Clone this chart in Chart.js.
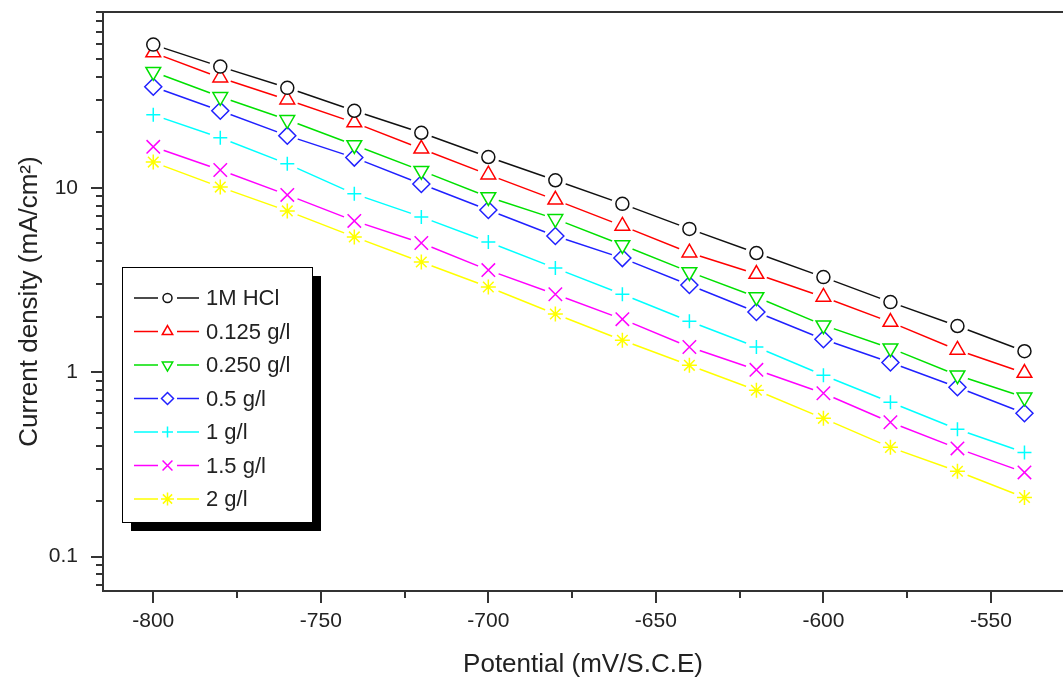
<!DOCTYPE html>
<html>
<head>
<meta charset="utf-8">
<script src="https://cdn.jsdelivr.net/npm/chart.js@4.4.0/dist/chart.umd.min.js"></script>
<style>
  body { margin: 0; background: #fff; }
  canvas { display: block; }
</style>
</head>
<body>
<canvas id="tafel" width="1063" height="679"></canvas>
<script>
// potential (mV/S.C.E)
const potential = [-800, -780, -760, -740, -720, -700, -680, -660, -640, -620, -600, -580, -560, -540];

// current density (mA/cm2)
const blank   = [59.9, 45.5, 34.9, 26.2, 19.9, 14.7, 11.0, 8.19, 5.99, 4.43, 3.28, 2.40, 1.78, 1.30];
const c0125   = [54.2, 39.6, 30.1, 22.6, 16.3, 11.8, 8.61, 6.22, 4.45, 3.41, 2.56, 1.87, 1.32, 0.99];
const c0250   = [42.7, 31.2, 23.4, 17.1, 12.4, 8.93, 6.79, 4.90, 3.50, 2.56, 1.80, 1.35, 0.963, 0.731];
const c05     = [35.4, 26.2, 19.2, 14.6, 10.5, 7.59, 5.48, 4.16, 2.97, 2.12, 1.51, 1.13, 0.829, 0.599];
const c1      = [24.9, 18.7, 13.5, 9.28, 6.96, 5.09, 3.67, 2.65, 1.89, 1.37, 0.963, 0.687, 0.490, 0.367];
const c15     = [16.7, 12.5, 9.16, 6.62, 5.02, 3.58, 2.65, 1.94, 1.37, 1.03, 0.769, 0.535, 0.386, 0.286];
const c2      = [13.8, 10.1, 7.50, 5.42, 3.96, 2.90, 2.07, 1.49, 1.09, 0.798, 0.562, 0.391, 0.290, 0.209];

const seriesNames = ['1M HCl', '0.125 g/l', '0.250 g/l', '0.5 g/l', '1 g/l', '1.5 g/l', '2 g/l'];

const xMajor = [-800, -750, -700, -650, -600, -550];
const xMinor = [-775, -725, -675, -625, -575];
const xTickLabels = ['-800', '-750', '-700', '-650', '-600', '-550'];

const yMajor = [0.1, 1, 10];
const yMinor = [0.07, 0.08, 0.09, 0.2, 0.3, 0.4, 0.5, 0.6, 0.7, 0.8, 0.9,
                2, 3, 4, 5, 6, 7, 8, 9, 20, 30, 40, 50, 60, 70, 80, 90];
const yTickLabels = ['0.1', '1', '10'];

const FONT = "'Liberation Sans', Arial, sans-serif";
const INK = '#222';

function pts(vals) {
  return potential.map((x, i) => ({ x: x, y: vals[i] }));
}

function series(label, vals, color, style, radius, rot) {
  return {
    label: label,
    data: pts(vals),
    borderColor: color,
    backgroundColor: '#fff',
    borderWidth: 1.5,
    pointStyle: style,
    pointRadius: radius,
    pointRotation: rot || 0,
    pointBorderColor: color,
    pointBackgroundColor: '#fff',
    pointBorderWidth: 1.5,
    tension: 0
  };
}

const datasets = [
  series(seriesNames[0], blank, '#111111', 'circle', 6.5),
  series(seriesNames[1], c0125, '#ff0000', 'triangle', 8.5),
  series(seriesNames[2], c0250, '#00e000', 'triangle', 8.5, 180),
  series(seriesNames[3], c05,   '#2020ff', 'rectRot', 8.5),
  series(seriesNames[4], c1,    '#00ffff', 'cross', 7),
  series(seriesNames[5], c15,   '#ff00ff', 'crossRot', 9.5),
  series(seriesNames[6], c2,    '#ffff00', 'star', 7.5)
];

// legend marker sizes (smaller than plot markers)
const legendRadius = [4.5, 6, 6, 6, 5.5, 7, 6.5];

// Origin style: the line stops short of each marker
const markerGaps = {
  id: 'markerGaps',
  afterDatasetsDraw(chart) {
    const ctx = chart.ctx;
    const area = chart.chartArea;
    ctx.save();
    ctx.beginPath();
    ctx.rect(area.left + 1, area.top + 1, area.right - area.left, area.bottom - area.top - 2);
    ctx.clip();
    ctx.fillStyle = '#fff';
    chart.data.datasets.forEach((ds, i) => {
      chart.getDatasetMeta(i).data.forEach(p => {
        ctx.beginPath();
        ctx.arc(p.x, p.y, 11, 0, Math.PI * 2);
        ctx.fill();
      });
    });
    for (let i = chart.data.datasets.length - 1; i >= 0; i--) {
      chart.getDatasetMeta(i).data.forEach(p => p.draw(ctx, area));
    }
    ctx.restore();
  }
};

// frame top line and tick marks (major long, minor short)
const frameTicks = {
  id: 'frameTicks',
  afterDraw(chart) {
    const ctx = chart.ctx;
    const area = chart.chartArea;
    const xs = chart.scales.x, ys = chart.scales.y;
    ctx.save();
    ctx.strokeStyle = '#333';
    ctx.lineWidth = 2;
    ctx.beginPath();
    ctx.moveTo(area.left - 1, area.top);
    ctx.lineTo(area.right, area.top);
    ctx.stroke();
    ctx.beginPath();
    ys.ticks.forEach(t => {
      const y = Math.round(ys.getPixelForValue(t.value));
      const len = yMajor.includes(t.value) ? 12 : 7;
      ctx.moveTo(area.left - len, y);
      ctx.lineTo(area.left, y);
    });
    xs.ticks.forEach(t => {
      const x = Math.round(xs.getPixelForValue(t.value));
      const len = xMajor.includes(t.value) ? 12 : 7;
      ctx.moveTo(x, area.bottom);
      ctx.lineTo(x, area.bottom + len);
    });
    ctx.stroke();
    ctx.restore();
  }
};

// boxed legend with a drop shadow
const boxLegend = {
  id: 'boxLegend',
  afterDraw(chart) {
    const ctx = chart.ctx;
    const bx = 122, by = 267, bw = 190, bh = 255;
    ctx.save();
    ctx.fillStyle = '#000';
    ctx.fillRect(bx + 9, by + 9, bw, bh);
    ctx.fillStyle = '#fff';
    ctx.fillRect(bx, by, bw, bh);
    ctx.strokeStyle = '#000';
    ctx.lineWidth = 1;
    ctx.strokeRect(bx + 0.5, by + 0.5, bw, bh);
    ctx.font = '22px ' + FONT;
    ctx.textBaseline = 'middle';
    ctx.textAlign = 'left';
    chart.data.datasets.forEach((ds, i) => {
      const y = 298 + i * 33.5;
      ctx.strokeStyle = ds.borderColor;
      ctx.lineWidth = 1.5;
      ctx.beginPath();
      ctx.moveTo(134, y);
      ctx.lineTo(158, y);
      ctx.moveTo(177, y);
      ctx.lineTo(199, y);
      ctx.stroke();
      ctx.fillStyle = '#fff';
      Chart.helpers.drawPoint(ctx, {
        pointStyle: ds.pointStyle,
        rotation: ds.pointRotation,
        radius: legendRadius[i],
        borderWidth: 1.5
      }, 167.5, y);
      ctx.fillStyle = INK;
      ctx.fillText(ds.label, 206, y + 1);
    });
    ctx.restore();
  }
};

new Chart(document.getElementById('tafel'), {
  type: 'line',
  data: { datasets: datasets },
  plugins: [markerGaps, frameTicks, boxLegend],
  options: {
    responsive: false,
    animation: false,
    devicePixelRatio: 1,
    layout: { autoPadding: false, padding: { top: 12, left: 0, right: 0, bottom: 0 } },
    plugins: {
      legend: { display: false },
      tooltip: { enabled: false }
    },
    scales: {
      x: {
        type: 'linear',
        min: -815,
        max: -528.5,
        afterBuildTicks: s => {
          s.ticks = xMajor.concat(xMinor).sort((a, b) => a - b).map(v => ({ value: v }));
        },
        afterFit: s => {
          s.height = 88;
          s.paddingLeft = 0;
          s.paddingRight = 0;
        },
        grid: { display: false, drawTicks: false },
        border: { display: true, color: '#333', width: 2 },
        ticks: {
          autoSkip: false,
          maxRotation: 0,
          padding: 18,
          color: INK,
          font: { family: FONT, size: 21 },
          callback: v => xMajor.includes(v) ? xTickLabels[xMajor.indexOf(v)] : ''
        },
        title: {
          display: true,
          text: 'Potential (mV/S.C.E)',
          color: INK,
          font: { family: FONT, size: 26, lineHeight: 1 },
          padding: { top: 0, bottom: 1 }
        }
      },
      y: {
        type: 'logarithmic',
        min: 0.065,
        max: 90,
        afterBuildTicks: s => {
          s.ticks = yMajor.concat(yMinor).sort((a, b) => a - b).map(v => ({ value: v }));
        },
        afterFit: s => {
          s.width = 103;
          s.paddingTop = 0;
          s.paddingBottom = 0;
        },
        grid: { display: false, drawTicks: false },
        border: { display: true, color: '#333', width: 2 },
        ticks: {
          autoSkip: false,
          padding: 25,
          color: INK,
          font: { family: FONT, size: 21 },
          callback: v => yMajor.includes(v) ? yTickLabels[yMajor.indexOf(v)] : ''
        },
        title: {
          display: true,
          text: 'Current density (mA/cm²)',
          color: INK,
          font: { family: FONT, size: 26, lineHeight: 1 },
          padding: { top: 17, bottom: 0 }
        }
      }
    }
  }
});
</script>
</body>
</html>
